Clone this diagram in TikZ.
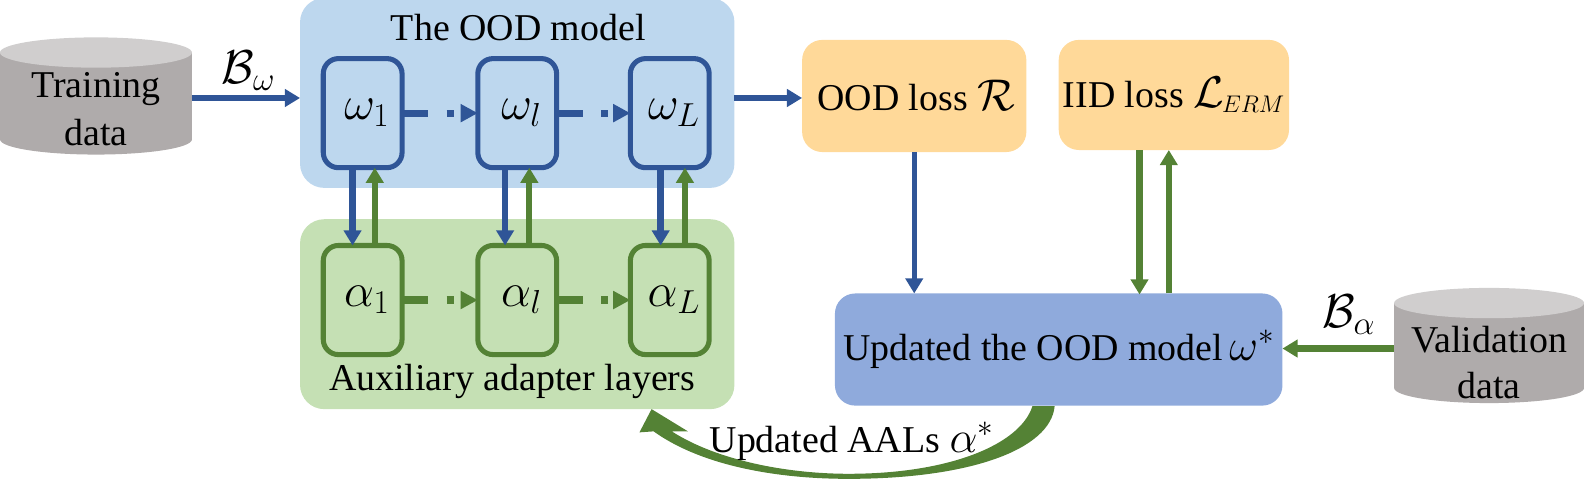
\RequirePackage{fix-cm}
\documentclass[tikz,border=0pt]{standalone}
\usepackage{fontspec}
\setmainfont{Liberation Serif}
\usetikzlibrary{arrows.meta}
\definecolor{cblue}{HTML}{2F5597}
\definecolor{cgreen}{HTML}{548235}
\definecolor{pblue}{HTML}{BDD7EE}
\definecolor{pgreen}{HTML}{C5E0B4}
\definecolor{porange}{HTML}{FFD999}
\definecolor{pupd}{HTML}{8FAADC}
\definecolor{cylside}{HTML}{AFABAB}
\definecolor{cyltop}{HTML}{D0CECE}
\newcommand{\mathbigf}{\fontsize{47}{50}\selectfont}
\newcommand{\mathmidf}{\fontsize{44}{46}\selectfont}
\tikzset{
  x=1pt,y=-1pt,
  every node/.style={font=\fontsize{37.5}{42}\selectfont,inner sep=0pt,outer sep=0pt,align=center},
  panel/.style={rounded corners=24pt,minimum width=#1},
  unit/.style={rounded corners=15pt,line width=5pt,minimum width=78pt,minimum height=108pt,font=\mathbigf},
  ubox/.style={unit,draw=cblue},
  abox/.style={unit,draw=cgreen},
  barb/.style={line width=5.5pt,draw=cblue,-{Triangle[length=15pt,width=17pt]}},
  garb/.style={line width=6pt,draw=cgreen,-{Triangle[length=15pt,width=17pt]}},
  dashb/.style={line width=7pt,dash pattern=on 24pt off 18pt on 7pt off 40pt,-{Triangle[length=17pt,width=17pt]}},
}
\newcommand{\cylshape}[4]{% x1 x2 y1 y2
  \pgfmathsetmacro{\cxm}{(#1+#2)/2}\pgfmathsetmacro{\crx}{(#2-#1)/2}
  \fill[cylside] (#1,#3+15) -- (#1,#4-15) arc[start angle=180,end angle=360,x radius=\crx,y radius=-15] -- (#2,#3+15) -- cycle;
  \fill[cyltop] (\cxm,#3+15) ellipse[x radius=\crx,y radius=15];
}
\begin{document}
\begin{tikzpicture}
\useasboundingbox (0,0) rectangle (1568,476);
% panels
\node[panel=430pt,fill=pblue,minimum height=188pt] (model) at (512,92) {};
\node[panel=430pt,fill=pgreen,minimum height=188pt] (aal) at (512,311) {};
\node (modeltitle) at (513,27) {The OOD model};
\node (aaltitle) at (507,378) {Auxiliary adapter layers};
% units
\node[ubox] (w1) at (359,112) {\hspace*{8pt}$\omega_1$};
\node[ubox] (wl) at (512,112) {\hspace*{8pt}$\omega_l$};
\node[ubox] (wL) at (663,112) {\hspace*{8pt}$\omega_L$};
\node[abox] (a1) at (359,297) {\hspace*{8pt}$\alpha_1$};
\node[abox] (al) at (512,297) {\hspace*{8pt}$\alpha_l$};
\node[abox] (aL) at (663,297) {\hspace*{8pt}$\alpha_L$};
% cylinders
\cylshape{0}{190}{37}{153}
\cylshape{1380}{1568}{285}{399}
\node[minimum width=190pt,minimum height=116pt] (train) at (95,95) {};
\node[minimum width=188pt,minimum height=114pt] (valid) at (1474,342) {};
\node (traintext) at (95,108) {Training\\[5pt]data};
\node (validtext) at (1474,359) {Validation\\[3pt]data};
% right boxes
\node[fill=porange,rounded corners=20pt,minimum width=222pt,minimum height=111pt] (ood) at (905,95) {\hspace*{4pt}OOD loss {\mathmidf$\mathcal{R}$}};
\node[fill=porange,rounded corners=20pt,minimum width=228pt,minimum height=109pt] (iid) at (1162,94) {IID loss {\mathmidf$\mathcal{L}$}\hspace{-2pt}{\fontsize{34}{36}\selectfont$_{ERM}$}};
\node[fill=pupd,rounded corners=20pt,minimum width=443pt,minimum height=111pt] (upd) at (1048,346) {\raisebox{-3pt}{Updated the OOD model\,{\fontsize{44}{46}\selectfont$\omega^{*}$}}};
% main arrows
\draw[barb] (train.east) ++(0,2) -- ([yshift=-5pt]model.west);
\node[font=\mathbigf] (bw) at (246,70) {$\mathcal{B}_{\omega}$};
\draw[barb] ([yshift=-5pt]model.east) -- ([yshift=-2pt]ood.west);
\draw[dashb,draw=cblue] (w1) ++(41,0) -- (wl.west);
\draw[dashb,draw=cblue] (wl) ++(41,0) -- (wL.west);
\draw[dashb,draw=cgreen] (a1) ++(41,0) -- (al.west);
\draw[dashb,draw=cgreen] (al) ++(41,0) -- (aL.west);
\foreach \u/\v/\sa/\sb in {w1/a1/-10/12,wl/al/-12/12,wL/aL/-9/15}{
  \draw[barb,line width=6.5pt] ([xshift=\sa pt]\u.south) -- ([xshift=\sa pt]\v.north);
  \draw[garb] ([xshift=\sb pt]\v.north) -- ([xshift=\sb pt]\u.south);
}
\draw[barb,line width=5pt] (ood.south) -- (ood.south |- upd.north);
\draw[garb] ([xshift=-34pt]iid.south) -- ([xshift=-34pt,yshift=-1pt]iid.south |- upd.north);
\draw[garb] ([xshift=-5pt]iid.south |- upd.north) -- ([xshift=-5pt]iid.south);
\draw[garb,line width=7pt] (valid.west |- 0,345) -- (upd.east |- 0,345);
\node[font=\mathbigf] (ba) at (1335,312) {$\mathcal{B}_{\alpha}$};
% feedback arrow
\fill[cgreen] (1044,402) .. controls (1040,445) and (960,474) .. (840,474)
  .. controls (760,474) and (690,458) .. (647,427) -- (633,428) -- (645,405) -- (681,427) -- (665,427)
  .. controls (710,456) and (780,469) .. (840,469)
  .. controls (940,469) and (1010,440) .. (1022,402) -- cycle;
\node (updaal) at (843,437) {Updated AALs {\fontsize{44}{46}\selectfont$\alpha^{*}$}};
\end{tikzpicture}
\end{document}
